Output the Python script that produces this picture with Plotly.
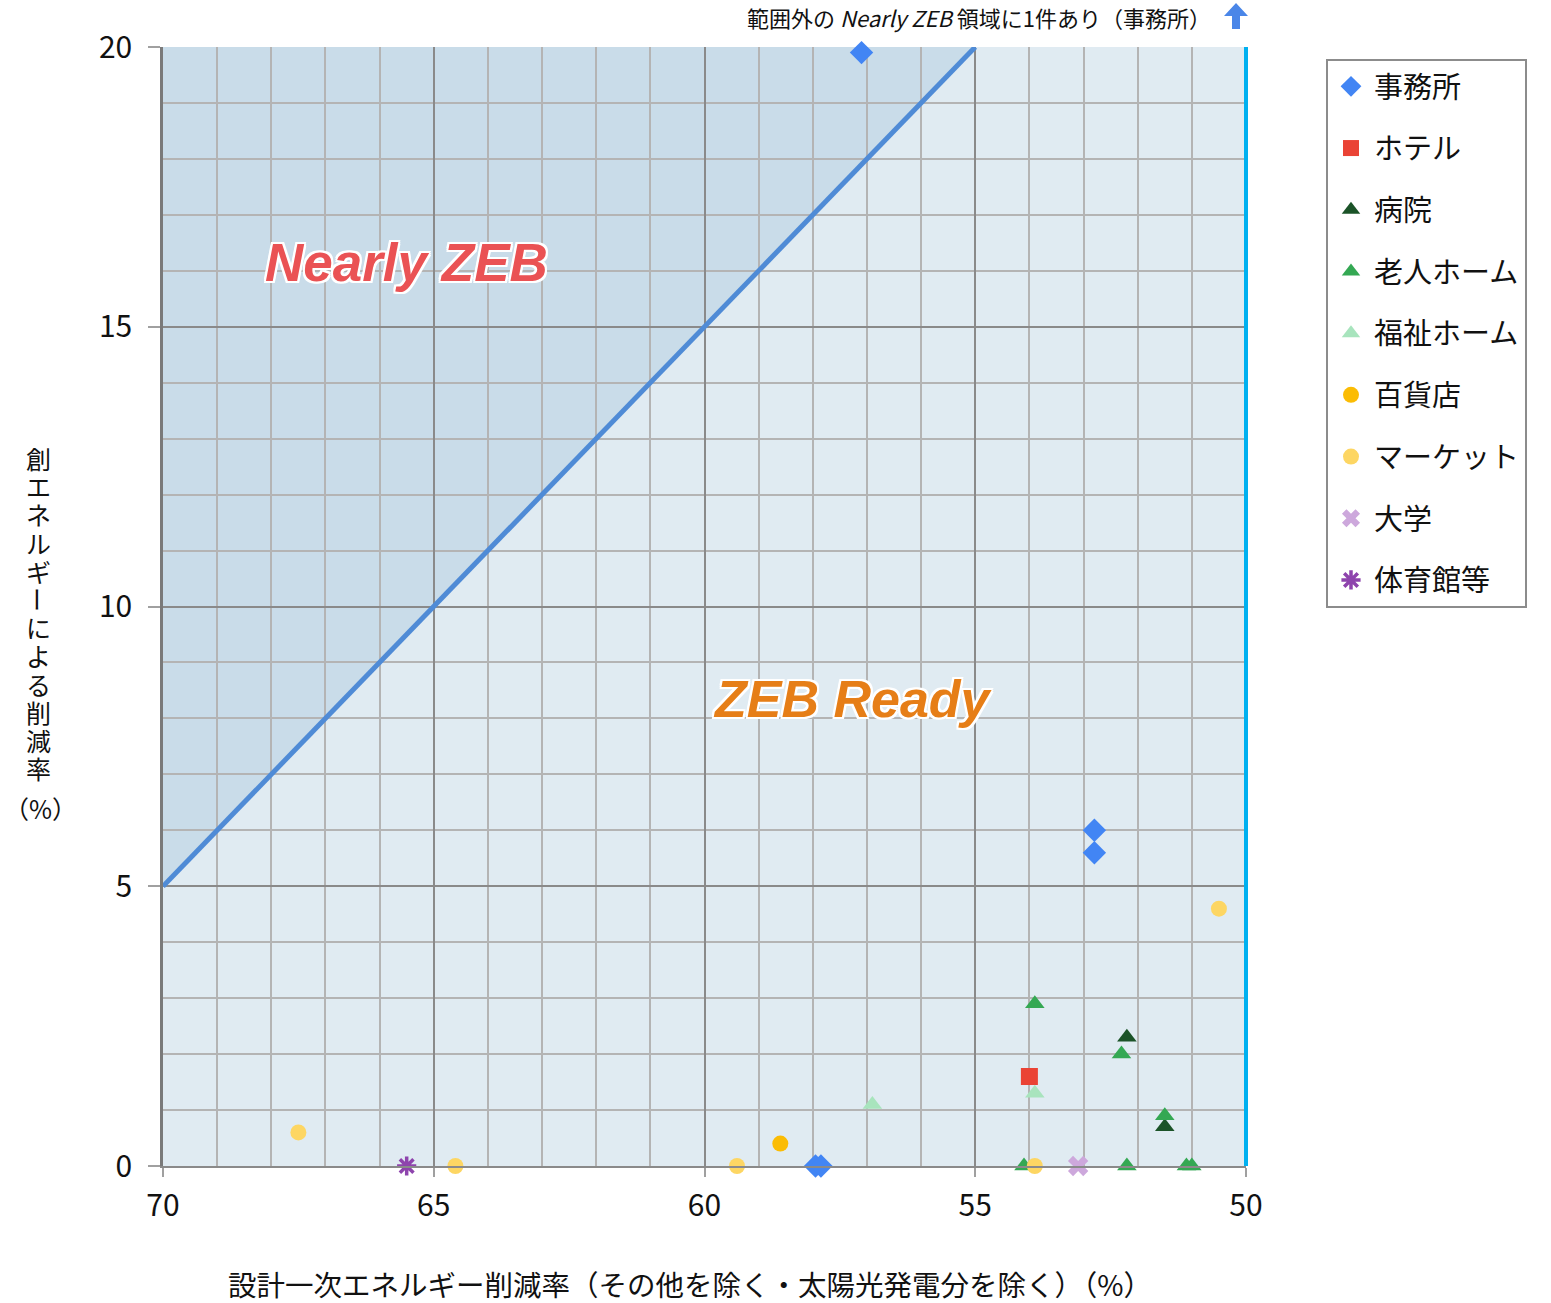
import plotly.graph_objects as go

# Building categories and their (design reduction %, on-site generation reduction %) pairs
categories = ["事務所", "ホテル", "病院", "老人ホーム", "福祉ホーム", "百貨店", "マーケット", "大学", "体育館等"]

office_x = [57.1, 52.8, 52.8, 57.95, 57.85]
office_y = [19.9, 6.0, 5.6, 0.0, 0.0]
hotel_x = [54.0]
hotel_y = [1.6]
hospital_x = [52.2, 51.5]
hospital_y = [2.3, 0.7]
elderly_x = [53.9, 52.3, 51.5, 54.1, 52.2, 51.1, 51.0]
elderly_y = [2.9, 2.0, 0.9, 0.0, 0.0, 0.0, 0.0]
welfare_x = [53.9, 56.9]
welfare_y = [1.3, 1.1]
dept_x = [58.6]
dept_y = [0.4]
market_x = [67.5, 64.6, 59.4, 53.9, 50.5]
market_y = [0.6, 0.0, 0.0, 0.0, 4.6]
univ_x = [53.1]
univ_y = [0.0]
gym_x = [65.5]
gym_y = [0.0]

# Nearly ZEB boundary: design reduction + generation reduction = 75
boundary_x = [70, 55]
boundary_y = [5, 20]

x_ticks = [70, 65, 60, 55, 50]
y_ticks = [0, 5, 10, 15, 20]

FONT = "Noto Sans CJK JP"

# plot area in pixels, used to place paper-referenced decorations
L, R, T, B = 163, 1246, 47, 1166


def px(xp):
    return (xp - L) / (R - L)


def py(yp):
    return (B - yp) / (B - T)


series = [
    (categories[0], office_x, office_y, "diamond", "#4285f4", 18),
    (categories[1], hotel_x, hotel_y, "square", "#ea4335", 17),
    (categories[2], hospital_x, hospital_y, "triangle-up", "#1b5328", 17),
    (categories[3], elderly_x, elderly_y, "triangle-up", "#34a853", 17),
    (categories[4], welfare_x, welfare_y, "triangle-up", "#a8e4bd", 17),
    (categories[5], dept_x, dept_y, "circle", "#fbbc04", 16),
    (categories[6], market_x, market_y, "circle", "#fdd663", 16),
    (categories[7], univ_x, univ_y, "x", "#cda8dc", 18),
    (categories[8], gym_x, gym_y, "asterisk-open", "#8e44ad", 16),
]

fig = go.Figure()

# Boundary line
fig.add_trace(go.Scatter(
    x=boundary_x, y=boundary_y, mode="lines",
    line=dict(color="#4f8bd6", width=5),
    showlegend=False, hoverinfo="skip",
))

for i, (name, xs, ys, sym, col, size) in enumerate(series):
    if sym == "asterisk-open":
        marker = dict(symbol=sym, size=size, color=col, line=dict(color=col, width=3.5))
    else:
        marker = dict(symbol=sym, size=size, color=col, line=dict(width=0))
    fig.add_trace(go.Scatter(
        x=xs, y=ys, mode="markers", name=name, marker=marker,
        cliponaxis=False, legendgroup=f"g{i}",
    ))

# Nearly ZEB region (above the boundary), drawn under the gridlines
fig.add_shape(
    type="path",
    path=f"M {boundary_x[0]} {boundary_y[0]} L {boundary_x[1]} {boundary_y[1]} L {boundary_x[0]} {boundary_y[1]} Z",
    xref="x", yref="y", fillcolor="#c9dce9", line=dict(width=0), layer="below",
)
# ZEB Ready limit at 50 %
fig.add_shape(
    type="line", x0=1, x1=1, y0=0, y1=1, xref="paper", yref="paper",
    line=dict(color="#00b0f0", width=4), layer="above",
)

outline = ("2px 0 0 #fff, -2px 0 0 #fff, 0 2px 0 #fff, 0 -2px 0 #fff, "
           "2px 2px 0 #fff, -2px -2px 0 #fff, 2px -2px 0 #fff, -2px 2px 0 #fff")

fig.add_annotation(
    x=65.5, y=16.15, xref="x", yref="y", text="Nearly ZEB", showarrow=False,
    font=dict(family="Liberation Sans", size=53, color="#ea5254", weight="bold",
              style="italic", shadow=outline),
)
fig.add_annotation(
    x=57.25, y=8.35, xref="x", yref="y", text="ZEB Ready", showarrow=False,
    font=dict(family="Liberation Sans", size=52, color="#e67e17", weight="bold",
              style="italic", shadow=outline),
)

# Note about the out-of-range point
fig.add_annotation(
    x=px(1213), y=py(17), xref="paper", yref="paper",
    text="範囲外の <i>Nearly ZEB</i> 領域に1件あり（事務所）",
    showarrow=False, xanchor="right", yanchor="middle",
    font=dict(family=FONT, size=22, color="#111111"),
)
# Up arrow next to the note
arrow_pts = [(1236, 3), (1248, 16), (1240, 16), (1240, 29), (1232, 29), (1232, 16), (1224, 16)]
arrow_path = "M " + " L ".join(f"{px(a):.5f} {py(b):.5f}" for a, b in arrow_pts) + " Z"
fig.add_shape(
    type="path", path=arrow_path, xref="paper", yref="paper",
    fillcolor="#4a86e8", line=dict(width=0), layer="above",
)

fig.update_layout(
    width=1551, height=1303,
    margin=dict(l=L, r=1551 - R, t=T, b=1303 - B),
    paper_bgcolor="white", plot_bgcolor="#e0ebf2",
    font=dict(family=FONT, size=25, color="#111111"),
    showlegend=True,
    legend=dict(
        x=px(1326), y=py(59), xanchor="left", yanchor="top",
        bordercolor="#8c8c8c", borderwidth=2, bgcolor="white",
        font=dict(family=FONT, size=29, color="#111111"),
        tracegroupgap=21, itemsizing="trace", itemwidth=36,
    ),
)

fig.update_xaxes(
    range=[70, 50], tickvals=x_ticks, ticktext=[str(v) for v in x_ticks],
    showgrid=True, gridcolor="#8a8a8a", gridwidth=1.5,
    minor=dict(dtick=1, showgrid=True, gridcolor="#b4b4b4", gridwidth=1.5),
    showline=True, linecolor="#8a8a8a", linewidth=2,
    ticks="outside", ticklen=9, tickcolor="#a0a0a0", tickwidth=1.5,
    zeroline=False, tickfont=dict(size=30, family=FONT), ticklabelstandoff=3,
)
fig.update_yaxes(
    range=[0, 20], tickvals=y_ticks, ticktext=[str(v) for v in y_ticks],
    showgrid=True, gridcolor="#8a8a8a", gridwidth=1.5,
    minor=dict(dtick=1, showgrid=True, gridcolor="#b4b4b4", gridwidth=1.5),
    showline=True, linecolor="#7a7a7a", linewidth=2.5,
    ticks="outside", ticklen=12, tickcolor="#a0a0a0", tickwidth=1.5,
    zeroline=False, tickfont=dict(size=30, family=FONT), ticklabelstandoff=10,
)

# Axis titles
fig.add_annotation(
    x=px(690), y=py(1283), xref="paper", yref="paper",
    xanchor="center", yanchor="middle",
    text="設計一次エネルギー削減率（その他を除く・太陽光発電分を除く）（%）",
    showarrow=False, font=dict(family=FONT, size=28.5, color="#111111"),
)

# Vertical y-axis title, one character per line
y_title = "創エネルギーによる削減率"
for k, ch in enumerate(y_title):
    fig.add_annotation(
        x=px(38), y=py(458 + k * 28.2), xref="paper", yref="paper",
        xanchor="center", yanchor="middle", height=28, borderpad=0,
        text=ch, showarrow=False, textangle=90 if ch == "ー" else 0,
        font=dict(family=FONT, size=25, color="#111111"),
    )
fig.add_annotation(
    x=px(40), y=py(808), xref="paper", yref="paper",
    xanchor="center", yanchor="middle",
    text="（%）", showarrow=False, font=dict(family=FONT, size=25, color="#111111"),
)

fig.write_html("out.html")
